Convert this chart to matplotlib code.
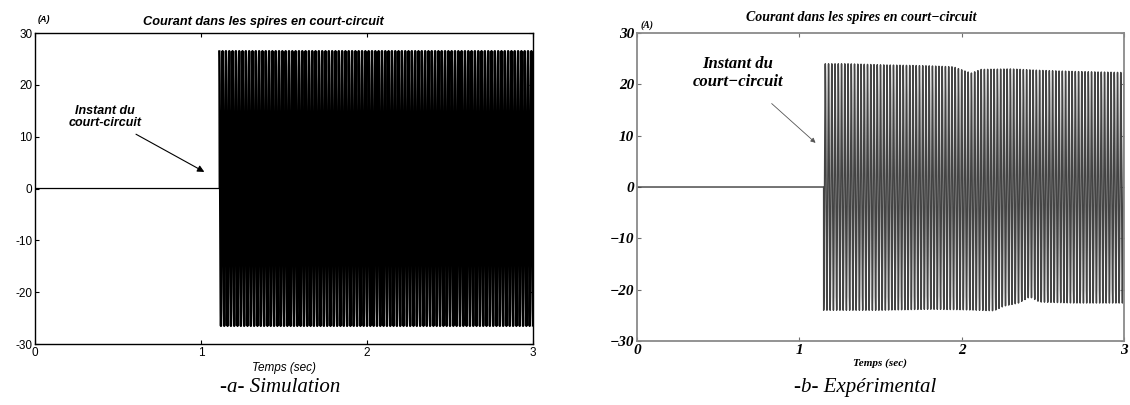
import numpy as np
import matplotlib
matplotlib.use('Agg')
import matplotlib.pyplot as plt

# Signal parameters
freq = 50.0                     # Hz, network frequency
t_end = 3.0
t_cc_sim = 1.11                 # instant du court-circuit (simulation)
t_cc_exp = 1.15                 # instant du court-circuit (experimental)
amp_sim = 26.5                  # crest value, simulation

# Envelope read from the experimental record (A)
exp_t_upper = [1.15, 1.30, 1.50, 1.80, 1.95, 2.02, 2.06, 2.12, 2.30, 2.50, 2.70, 3.00]
exp_upper = [24.0, 24.0, 23.8, 23.6, 23.4, 22.6, 22.2, 22.9, 23.0, 22.7, 22.5, 22.3]
exp_t_lower = [1.15, 1.50, 1.80, 2.00, 2.20, 2.26, 2.35, 2.42, 2.48, 2.70, 3.00]
exp_lower = [-24.0, -24.0, -23.8, -23.9, -24.1, -23.2, -22.6, -21.4, -22.4, -22.6, -22.6]

yticks = [-30, -20, -10, 0, 10, 20, 30]
xticks = [0, 1, 2, 3]

fig = plt.figure(figsize=(11.3, 4.05), dpi=100)

# ---------- -a- Simulation ----------
ax1 = fig.add_axes([0.031, 0.1506, 0.4407, 0.7679])
t1 = np.arange(0, t_end, 1 / 4000.0)
i1 = np.where(t1 >= t_cc_sim, amp_sim * np.sin(2 * np.pi * freq * (t1 - t_cc_sim) + np.pi / 2), 0.0)
avant = t1 <= t_cc_sim
ax1.plot(t1[avant], i1[avant], color='black', lw=0.9)
ax1.plot(t1[~avant], i1[~avant], color='black', lw=1.7)
ax1.set_xlim(0, 3)
ax1.set_ylim(-30, 30)
ax1.set_xticks(xticks)
ax1.set_yticks(yticks)
ax1.set_yticklabels(['-30', '-20', '-10', '0', '10', '20', '30'])
ax1.tick_params(direction='in', top=True, right=True, length=3, labelsize=8.5, pad=2)
for lab in ax1.get_xticklabels() + ax1.get_yticklabels():
    lab.set_family('Liberation Sans')
for s in ax1.spines.values():
    s.set_linewidth(1.0)
ax1.set_xlabel('Temps (sec)', fontsize=8.5, family='Liberation Sans', style='italic', labelpad=2)
fig.text(0.233, 0.946, 'Courant dans les spires en court-circuit', fontsize=9.2, family='Liberation Sans',
         style='italic', weight='bold', ha='center', va='center')
fig.text(0.0335, 0.951, '(A)', fontsize=6.5, family='Liberation Sans', style='italic', weight='bold',
         ha='left', va='center')
ax1.annotate('Instant du\ncourt-circuit', xy=(1.02, 3.2), xytext=(0.42, 13.8),
             fontsize=9, family='Liberation Sans', style='italic', weight='bold',
             ha='center', va='center', linespacing=0.95,
             arrowprops=dict(arrowstyle='-|>', color='black', lw=0.8, mutation_scale=10,
                             shrinkA=4, shrinkB=0))
fig.text(0.2478, 0.042, '-a- Simulation', fontsize=15, family='Liberation Serif', style='italic',
         ha='center', va='center')

# ---------- -b- Expérimental ----------
ax2 = fig.add_axes([0.5637, 0.158, 0.431, 0.7605])
t2 = np.arange(0, t_end, 1 / 4000.0)
up = np.interp(t2, exp_t_upper, exp_upper)
lo = np.interp(t2, exp_t_lower, exp_lower)
mid = (up + lo) / 2
amp = (up - lo) / 2
i2 = np.where(t2 >= t_cc_exp, mid + amp * np.sin(2 * np.pi * freq * (t2 - t_cc_exp) - np.pi / 2), 0.0)
ax2.plot(t2, i2, color='#444444', lw=1.05)
ax2.set_xlim(0, 3)
ax2.set_ylim(-30, 30)
ax2.set_xticks(xticks)
ax2.set_yticks(yticks)
ax2.set_yticklabels(['\u221230', '\u221220', '\u221210', '0', '10', '20', '30'])
ax2.tick_params(direction='in', top=True, right=True, length=3, labelsize=11, pad=2, color='#707070')
for lab in ax2.get_xticklabels() + ax2.get_yticklabels():
    lab.set_family('Liberation Serif')
    lab.set_style('italic')
    lab.set_weight('bold')
for s in ax2.spines.values():
    s.set_color('#8a8a8a')
    s.set_linewidth(1.3)
ax2.set_xlabel('Temps (sec)', fontsize=8, family='Liberation Serif', style='italic', weight='bold', labelpad=1)
fig.text(0.762, 0.957, 'Courant dans les spires en court\u2212circuit', fontsize=10, family='Liberation Serif',
         style='italic', weight='bold', ha='center', va='center')
fig.text(0.5665, 0.937, '(A)', fontsize=7, family='Liberation Serif', style='italic', weight='bold',
         ha='left', va='center')
ax2.annotate('Instant du\ncourt\u2212circuit', xy=(1.10, 8.6), xytext=(0.62, 22.2),
             fontsize=12, family='Liberation Serif', style='italic', weight='bold',
             ha='center', va='center', linespacing=1.1,
             arrowprops=dict(arrowstyle='-|>', color='#555555', lw=0.6, mutation_scale=7,
                             shrinkA=12, shrinkB=0))
fig.text(0.7655, 0.042, '-b- Exp\u00e9rimental', fontsize=15, family='Liberation Serif', style='italic',
         ha='center', va='center')

fig.savefig('out.png', dpi=100)
